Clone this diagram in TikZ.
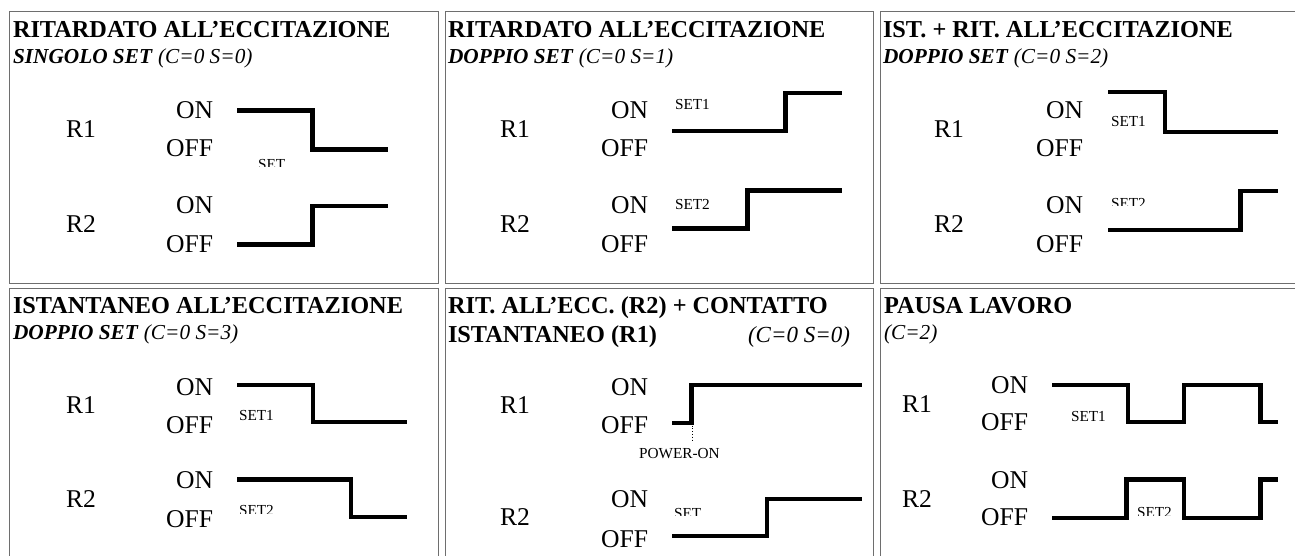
\documentclass[tikz,border=0pt]{standalone}
\usepackage{fontspec}
\setmainfont{Liberation Serif}
\newcommand{\fhd}{\fontsize{24.3}{28}\selectfont\bfseries}
\newcommand{\fsub}{\fontsize{21.3}{25}\selectfont}
\newcommand{\flab}{\fontsize{25.6}{30}\selectfont}
\newcommand{\fsm}{\fontsize{15.3}{18}\selectfont}
\definecolor{bordergray}{RGB}{110,110,110}
\tikzset{
  hd/.style={anchor=base west, inner sep=0pt, outer sep=0pt, font=\fhd},
  sub/.style={anchor=base west, inner sep=0pt, outer sep=0pt, font=\fsub},
  lw/.style={anchor=base west, inner sep=0pt, outer sep=0pt, font=\flab},
  le/.style={anchor=base east, inner sep=0pt, outer sep=0pt, font=\flab},
  sm/.style={anchor=base west, inner sep=0pt, outer sep=0pt, font=\fsm},
  wave/.style={line width=4.2pt, line join=miter, line cap=butt},
  cellbox/.style={draw=bordergray, line width=1pt},
}
\newcommand{\clipset}[5]{% name, x, baseline y, clip y, text
  \begin{scope}
    \clip (#2-3,#3-20) rectangle (#2+60,#4);
    \node[sm] (#1) at (#2,#3) {#5};
  \end{scope}}
\begin{document}
\begin{tikzpicture}[x=1pt,y=-1pt]
\useasboundingbox (0,0) rectangle (1295,556);
\fill[white] (0,0) rectangle (1295,556);
% cells
\draw[cellbox] (9,11.5) rectangle (438.3,283.5);
\draw[cellbox] (445,11.5) rectangle (873.3,283.5);
\draw[cellbox] (880.7,11.5) rectangle (1310,283.5);
\draw[cellbox] (9,288) rectangle (438.3,570);
\draw[cellbox] (445,288) rectangle (873.3,570);
\draw[cellbox] (880.7,288) rectangle (1310,570);

% ---------- Cell 1
\node[hd] (h1) at (13,38) {RITARDATO ALL’ECCITAZIONE};
\node[sub] (s1) at (13,64) {\textbf{\textit{SINGOLO SET}} \textit{(C=0 S=0)}};
\node[lw] (c1r1) at (66,138) {R1};
\node[le] (c1on1) at (213,119) {ON};
\node[le] (c1off1) at (213,157) {OFF};
\node[lw] (c1r2) at (66,233) {R2};
\node[le] (c1on2) at (213,213) {ON};
\node[le] (c1off2) at (213,252) {OFF};
\clipset{c1set}{258}{169.5}{166.5}{SET}
\draw[wave] (237,110.5) -- (312.5,110.5) -- (312.5,149.5) -- (388,149.5);
\draw[wave] (237,244.5) -- (312.5,244.5) -- (312.5,206) -- (388,206);

% ---------- Cell 2
\node[hd] (h2) at (448,38) {RITARDATO ALL’ECCITAZIONE};
\node[sub] (s2) at (448,64) {\textbf{\textit{DOPPIO SET}} \textit{(C=0 S=1)}};
\node[lw] (c2r1) at (500,138) {R1};
\node[le] (c2on1) at (648,119) {ON};
\node[le] (c2off1) at (648,157) {OFF};
\node[lw] (c2r2) at (500,233) {R2};
\node[le] (c2on2) at (648,213) {ON};
\node[le] (c2off2) at (648,252) {OFF};
\node[sm] (c2set1) at (675,110) {SET1};
\node[sm] (c2set2) at (675,210) {SET2};
\draw[wave] (672,131) -- (785.5,131) -- (785.5,93) -- (842,93);
\draw[wave] (672,228.5) -- (747.5,228.5) -- (747.5,190.5) -- (842,190.5);

% ---------- Cell 3
\node[hd] (h3) at (883,38) {IST. + RIT. ALL’ECCITAZIONE};
\node[sub] (s3) at (883,64) {\textbf{\textit{DOPPIO SET}} \textit{(C=0 S=2)}};
\node[lw] (c3r1) at (934,138) {R1};
\node[le] (c3on1) at (1083,119) {ON};
\node[le] (c3off1) at (1083,157) {OFF};
\node[lw] (c3r2) at (934,233) {R2};
\node[le] (c3on2) at (1083,213) {ON};
\node[le] (c3off2) at (1083,252) {OFF};
\node[sm] (c3set1) at (1111,127) {SET1};
\clipset{c3set2}{1111}{208}{205.5}{SET2}
\draw[wave] (1108,92) -- (1165,92) -- (1165,132) -- (1278,132);
\draw[wave] (1108,229.7) -- (1240.5,229.7) -- (1240.5,190.7) -- (1278,190.7);

% ---------- Cell 4
\node[hd] (h4) at (13,313) {ISTANTANEO ALL’ECCITAZIONE};
\node[sub] (s4) at (13,339) {\textbf{\textit{DOPPIO SET}} \textit{(C=0 S=3)}};
\node[lw] (c4r1) at (66,413) {R1};
\node[le] (c4on1) at (213,395) {ON};
\node[le] (c4off1) at (213,433) {OFF};
\node[lw] (c4r2) at (66,507) {R2};
\node[le] (c4on2) at (213,488) {ON};
\node[le] (c4off2) at (213,527) {OFF};
\node[sm] (c4set1) at (239,420) {SET1};
\clipset{c4set2}{239}{515.5}{513}{SET2}
\draw[wave] (237,385.3) -- (313,385.3) -- (313,422) -- (407,422);
\draw[wave] (237,479.5) -- (351.3,479.5) -- (351.3,517) -- (407,517);

% ---------- Cell 5
\node[hd] (h5) at (448,313) {RIT. ALL’ECC. (R2) + CONTATTO};
\node[hd] (h5b) at (448,342) {ISTANTANEO (R1)};
\node[sub, anchor=base east, font=\fontsize{23}{27}\selectfont] (s5) at (850,342) {\textit{(C=0 S=0)}};
\node[lw] (c5r1) at (500,413) {R1};
\node[le] (c5on1) at (648,395) {ON};
\node[le] (c5off1) at (648,433) {OFF};
\node[sm] (c5pw) at (639,458) {POWER-ON};
\node[lw] (c5r2) at (500,525) {R2};
\node[le] (c5on2) at (648,507) {ON};
\node[le] (c5off2) at (648,547) {OFF};
\clipset{c5set}{674}{518}{515.5}{SET}
\coordinate (pwtop) at (692,425.5);
\coordinate (pwbot) at (692,440);
\draw[line width=0.8pt, dotted] (pwtop) -- (pwbot);
\draw[wave] (672,422.7) -- (691.5,422.7) -- (691.5,385.3) -- (862,385.3);
\draw[wave] (672,535.7) -- (766.8,535.7) -- (766.8,499) -- (862,499);

% ---------- Cell 6
\node[hd] (h6) at (884,313) {PAUSA LAVORO};
\node[sub] (s6) at (884,339) {\textit{(C=2)}};
\node[lw] (c6r1) at (902,412) {R1};
\node[le] (c6on1) at (1028,393) {ON};
\node[le] (c6off1) at (1028,430) {OFF};
\node[lw] (c6r2) at (902,507) {R2};
\node[le] (c6on2) at (1028,488) {ON};
\node[le] (c6off2) at (1028,525) {OFF};
\node[sm] (c6set1) at (1071,421) {SET1};
\clipset{c6set2}{1137}{517.5}{515}{SET2}
\draw[wave] (1052,385.3) -- (1128,385.3) -- (1128,422) -- (1184,422) -- (1184,385.3) -- (1260.5,385.3) -- (1260.5,422) -- (1278,422);
\draw[wave] (1052,517.8) -- (1126.5,517.8) -- (1126.5,479.5) -- (1184,479.5) -- (1184,517.8) -- (1260.5,517.8) -- (1260.5,479.5) -- (1278,479.5);
\end{tikzpicture}
\end{document}
